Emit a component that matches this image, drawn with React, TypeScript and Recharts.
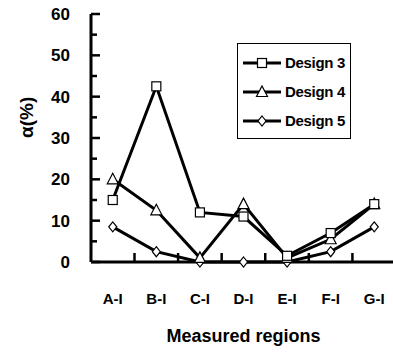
import { LineChart, Line, XAxis, YAxis, Legend } from 'recharts'

const regions = ['A-I', 'B-I', 'C-I', 'D-I', 'E-I', 'F-I', 'G-I']
const design3 = [15, 42.5, 12, 11, 1.5, 7, 14]
const design4 = [20, 12.5, 1, 14, 1, 5.5, 14]
const design5 = [8.5, 2.5, 0, 0, 0, 2.5, 8.5]
const yTicks = [0, 5, 10, 15, 20, 25, 30, 35, 40, 45, 50, 55, 60]

const data = regions.map((r, i) => ({
    region: r,
    d3: design3[i],
    d4: design4[i],
    d5: design5[i],
}))

const font = "'Liberation Sans', Arial, sans-serif"

const Square = ({ cx, cy }: any) => (
    <rect x={cx - 4.5} y={cy - 4.5} width={9} height={9} fill="#fff" stroke="#000" strokeWidth={1.2} />
)
const Triangle = ({ cx, cy }: any) => (
    <polygon points={`${cx},${cy - 6} ${cx - 5.5},${cy + 4.5} ${cx + 5.5},${cy + 4.5}`} fill="#fff" stroke="#000" strokeWidth={1.2} />
)
const Diamond = ({ cx, cy }: any) => (
    <polygon points={`${cx},${cy - 5} ${cx + 4},${cy} ${cx},${cy + 5} ${cx - 4},${cy}`} fill="#fff" stroke="#000" strokeWidth={1.2} />
)

const YTick = ({ x, y, payload }: any) => {
    const major = payload.value % 10 === 0
    return (
        <g>
            <line x1={x} y1={y} x2={x + (major ? 9 : 6)} y2={y} stroke="#000" strokeWidth={2.5} />
            {major && (
                <text x={x - 21} y={y + 6} textAnchor="end" fontSize={17} fontWeight="bold" fontFamily={font} fill="#000">
                    {payload.value}
                </text>
            )}
        </g>
    )
}

const XTick = ({ x, y, payload }: any) => (
    <g>
        <line x1={x + 21.75} y1={y} x2={x + 21.75} y2={y - 9} stroke="#000" strokeWidth={2.5} />
        <text x={x} y={y + 42} textAnchor="middle" fontSize={15} fontWeight="bold" fontFamily={font} fill="#000">
            {payload.value}
        </text>
    </g>
)

const legendItems = [
    { name: 'Design 3', Mark: Square },
    { name: 'Design 4', Mark: Triangle },
    { name: 'Design 5', Mark: Diamond },
]

const LegendBox = () => (
    <div style={{ border: '1.5px solid #000', width: 114, height: 96, background: '#fff', paddingTop: 4, boxSizing: 'border-box' }}>
        {legendItems.map(({ name, Mark }) => (
            <div key={name} style={{ display: 'flex', alignItems: 'center', height: 29, whiteSpace: 'nowrap' }}>
                <svg width={40} height={20} style={{ marginLeft: 4, marginRight: 3 }}>
                    <line x1={1} y1={10} x2={39} y2={10} stroke="#000" strokeWidth={3} />
                    <Mark cx={20} cy={10} />
                </svg>
                <span style={{ fontFamily: font, fontWeight: 'bold', fontSize: 15, color: '#000', letterSpacing: -0.3 }}>{name}</span>
            </div>
        ))}
    </div>
)

export default function App() {
    return (
        <div style={{ position: 'absolute', left: 0, top: 0, width: 393, height: 356, overflow: 'hidden', background: '#fff' }}>
            <LineChart width={396} height={356} data={data} margin={{ top: 14, right: 0, bottom: 0, left: 0 }}>
                <XAxis
                    dataKey="region"
                    height={94}
                    padding={{ left: 21.75, right: 21.75 }}
                    tickLine={false}
                    tickSize={0}
                    tickMargin={0}
                    axisLine={{ stroke: '#000', strokeWidth: 3 }}
                    tick={<XTick />}
                    interval={0}
                    label={{ value: 'Measured regions', position: 'insideBottom', offset: 14, fontSize: 18, fontWeight: 'bold', fontFamily: font, fill: '#000' }}
                />
                <YAxis
                    width={91}
                    domain={[0, 60]}
                    ticks={yTicks}
                    interval={0}
                    tickLine={false}
                    tickSize={0}
                    tickMargin={0}
                    axisLine={{ stroke: '#000', strokeWidth: 3 }}
                    tick={<YTick />}
                    label={{ value: 'α(%)', angle: -90, position: 'insideLeft', offset: 26, fontSize: 19, fontWeight: 'bold', fontFamily: font, fill: '#000' }}
                />
                <Legend
                    layout="horizontal"
                    verticalAlign="middle"
                    content={<LegendBox />}
                    wrapperStyle={{ position: 'absolute', left: 237, top: 43, width: 114 }}
                />
                <Line dataKey="d5" name="Design 5" stroke="#000" strokeWidth={3} dot={<Diamond />} isAnimationActive={false} />
                <Line dataKey="d4" name="Design 4" stroke="#000" strokeWidth={3} dot={<Triangle />} isAnimationActive={false} />
                <Line dataKey="d3" name="Design 3" stroke="#000" strokeWidth={3} dot={<Square />} isAnimationActive={false} />
            </LineChart>
        </div>
    )
}
